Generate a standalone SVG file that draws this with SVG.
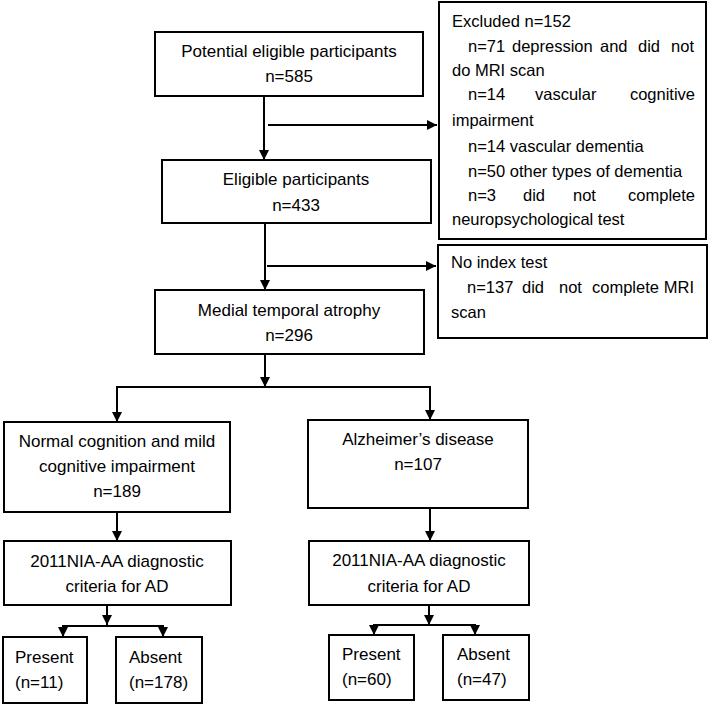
<svg xmlns="http://www.w3.org/2000/svg" width="709" height="706" viewBox="0 0 709 706">
<defs>
<style>
rect{fill:#fff;stroke:#000;stroke-width:2}
text{font-family:"Liberation Sans",Arial,sans-serif;font-size:17px;fill:#000}
.s text{font-size:16.5px}
.c{text-anchor:middle}
.e{text-anchor:end}
#connectors path{fill:none;stroke:#000;stroke-width:2}
</style>
<marker id="arr" viewBox="0 0 10 10" refX="10" refY="5" markerWidth="10" markerHeight="10" markerUnits="userSpaceOnUse" orient="auto">
<path d="M0,0 L10,5 L0,10 z" fill="#000"/>
</marker>
</defs>
<rect x="0" y="0" width="709" height="706" style="stroke:none"/>
<g id="connectors">
<path d="M264,96 V160" marker-end="url(#arr)"/>
<path d="M268,125 H437" marker-end="url(#arr)"/>
<path d="M265,223 V290" marker-end="url(#arr)"/>
<path d="M267,266 H436" marker-end="url(#arr)"/>
<path d="M265,354 V387" marker-end="url(#arr)"/>
<path d="M116,387 H431"/>
<path d="M117,387 V422" marker-end="url(#arr)"/>
<path d="M430,387 V420" marker-end="url(#arr)"/>
<path d="M117,512 V541" marker-end="url(#arr)"/>
<path d="M430,508 V541" marker-end="url(#arr)"/>
<path d="M107,605 V625" marker-end="url(#arr)"/>
<path d="M62,626 H164"/>
<path d="M63,626 V637" marker-end="url(#arr)"/>
<path d="M163,626 V637" marker-end="url(#arr)"/>
<path d="M429,605 V625" marker-end="url(#arr)"/>
<path d="M373,625 H476"/>
<path d="M374,625 V635" marker-end="url(#arr)"/>
<path d="M475,625 V635" marker-end="url(#arr)"/>
</g>
<g id="potential">
<rect x="155" y="32" width="268" height="64"/>
<text class="c" x="289" y="57">Potential eligible participants</text>
<text class="c" x="289" y="82">n=585</text>
</g>
<g id="excluded" class="s">
<rect x="439" y="2" width="267" height="237"/>
<text x="452" y="27">Excluded n=152</text>
<text x="468" y="52">n=71</text><text x="512" y="52">depression</text><text x="600" y="52">and</text><text x="638" y="52">did</text><text class="e" x="694" y="52">not</text>
<text x="452" y="76">do MRI scan</text>
<text x="468" y="100">n=14</text><text x="535" y="100">vascular</text><text class="e" x="695" y="100">cognitive</text>
<text x="452" y="126">impairment</text>
<text x="468" y="152">n=14 vascular dementia</text>
<text x="468" y="177">n=50 other types of dementia</text>
<text x="468" y="201">n=3</text><text x="523" y="201">did</text><text x="573" y="201">not</text><text class="e" x="695" y="201">complete</text>
<text x="452" y="225">neuropsychological test</text>
</g>
<g id="eligible">
<rect x="162" y="160" width="269" height="63"/>
<text class="c" x="296" y="185">Eligible participants</text>
<text class="c" x="296" y="211">n=433</text>
</g>
<g id="noindex" class="s">
<rect x="438" y="245" width="269" height="93"/>
<text x="451" y="268">No index test</text>
<text x="467" y="293">n=137</text><text x="522" y="293">did</text><text x="559" y="293">not</text><text x="592" y="293">complete</text><text class="e" x="694" y="293">MRI</text>
<text x="451" y="318">scan</text>
</g>
<g id="mta">
<rect x="155" y="290" width="269" height="64"/>
<text class="c" x="289" y="316">Medial temporal atrophy</text>
<text class="c" x="289" y="341">n=296</text>
</g>
<g id="normal">
<rect x="4" y="422" width="226" height="90"/>
<text class="c" x="117" y="447">Normal cognition and mild</text>
<text class="c" x="117" y="472">cognitive impairment</text>
<text class="c" x="117" y="497">n=189</text>
</g>
<g id="ad">
<rect x="308" y="420" width="220" height="88"/>
<text class="c" x="418" y="445">Alzheimer’s disease</text>
<text class="c" x="418" y="470">n=107</text>
</g>
<g id="nia-left">
<rect x="4" y="541" width="227" height="64"/>
<text class="c" x="117" y="567">2011NIA-AA diagnostic</text>
<text class="c" x="117" y="592">criteria for AD</text>
</g>
<g id="nia-right">
<rect x="309" y="541" width="220" height="64"/>
<text class="c" x="419" y="566">2011NIA-AA diagnostic</text>
<text class="c" x="419" y="592">criteria for AD</text>
</g>
<g id="present-left">
<rect x="3" y="637" width="84" height="66"/>
<text x="15" y="663">Present</text>
<text x="15" y="688">(n=11)</text>
</g>
<g id="absent-left">
<rect x="116" y="637" width="86" height="66"/>
<text x="129" y="663">Absent</text>
<text x="129" y="688">(n=178)</text>
</g>
<g id="present-right">
<rect x="329" y="635" width="85" height="65"/>
<text x="342" y="660">Present</text>
<text x="342" y="685">(n=60)</text>
</g>
<g id="absent-right">
<rect x="443" y="635" width="86" height="65"/>
<text x="457" y="660">Absent</text>
<text x="457" y="685">(n=47)</text>
</g>
</svg>
